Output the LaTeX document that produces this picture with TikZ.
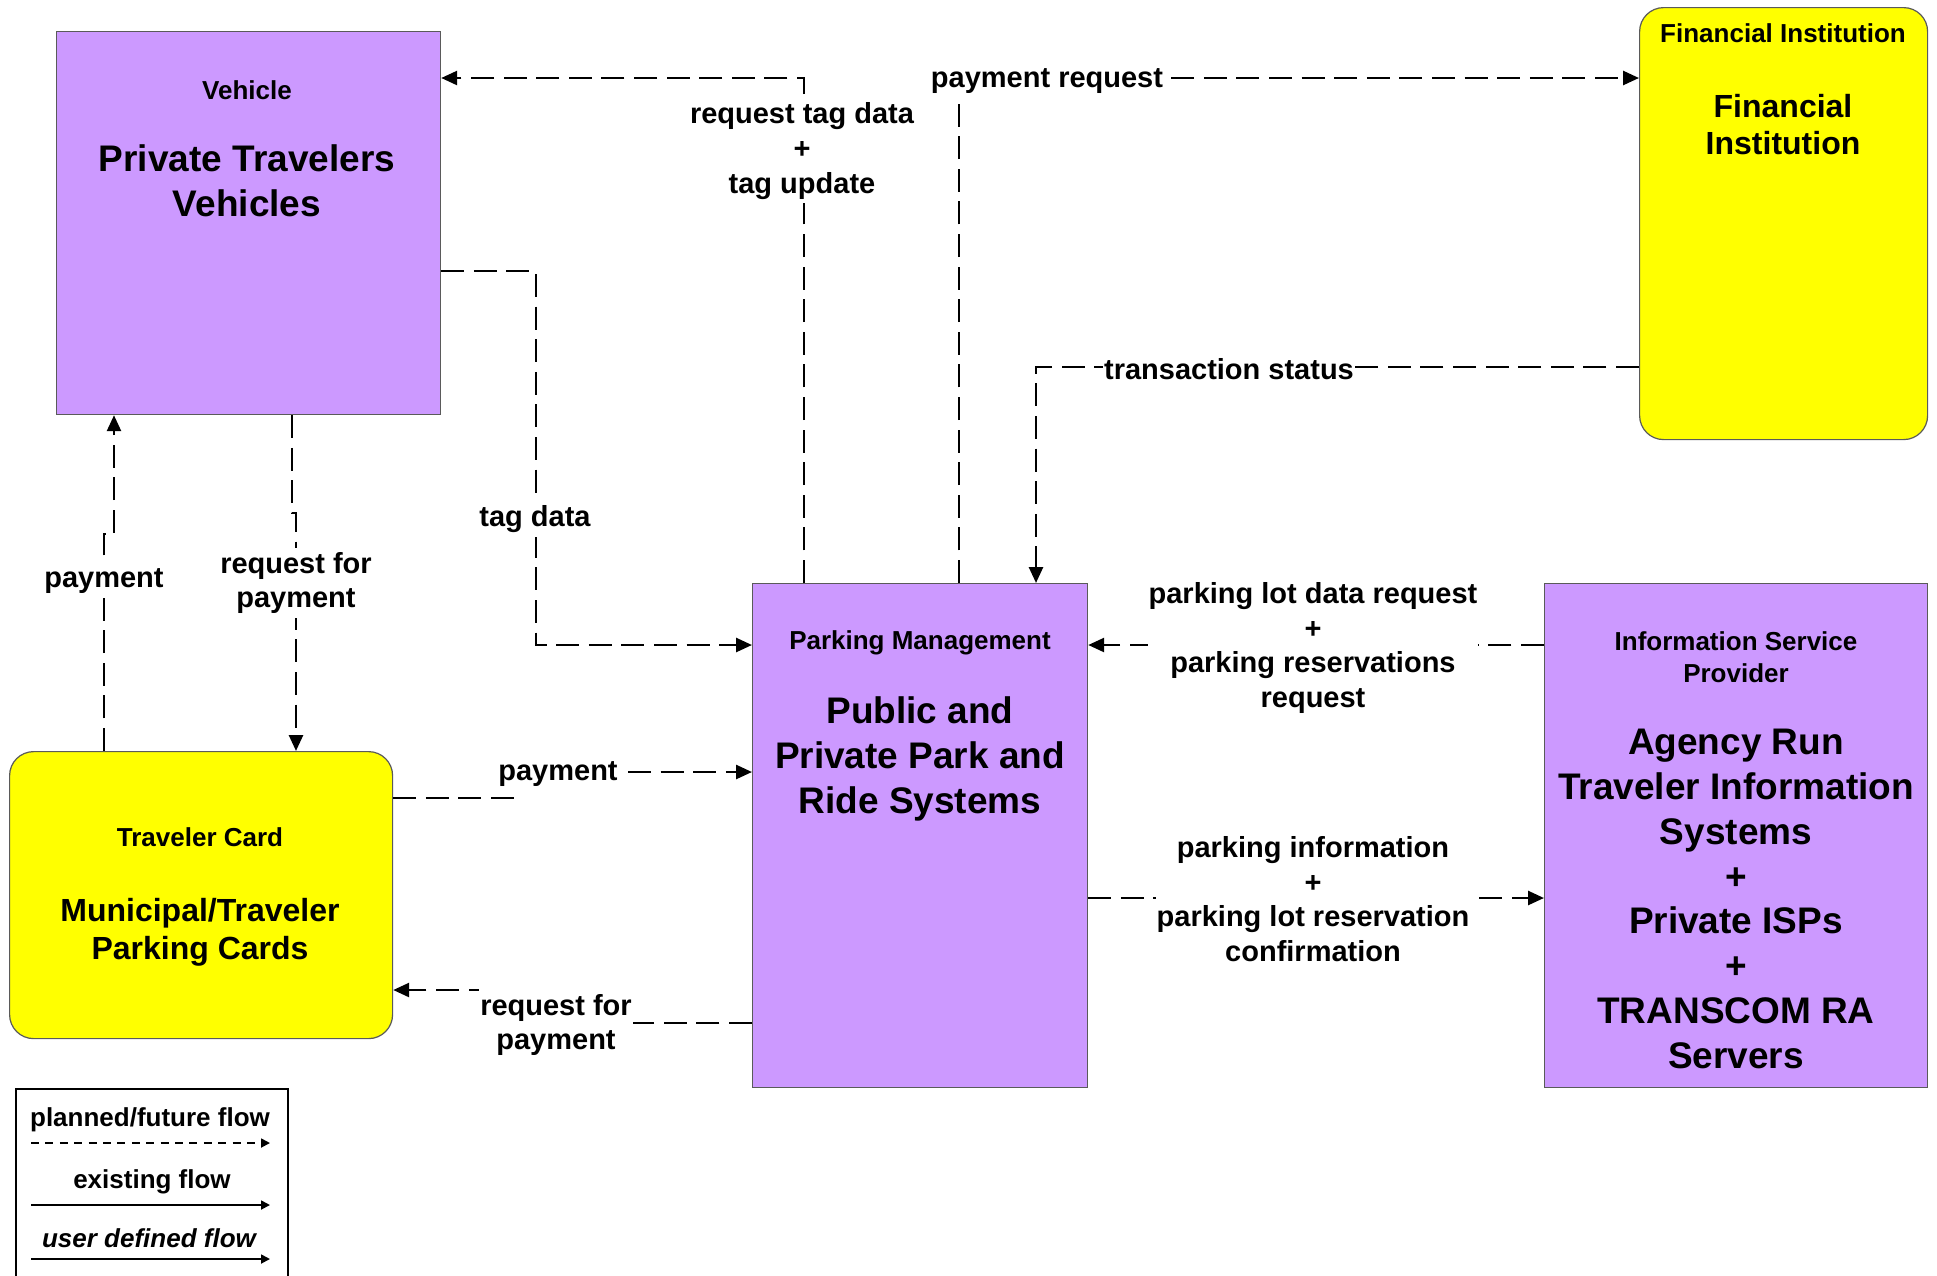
\documentclass[tikz,border=0pt]{standalone}
\usepackage{fontspec}
\setmainfont{Liberation Sans}
\usetikzlibrary{arrows.meta}
\definecolor{boxpurple}{RGB}{204,153,255}
\definecolor{boxyellow}{RGB}{255,255,0}
\definecolor{boxedge}{RGB}{90,90,90}
\begin{document}
\begin{tikzpicture}[x=0.5pt,y=-0.5pt,
  box/.style={draw=boxedge, line width=0.6pt, inner sep=0pt, anchor=north west},
  purp/.style={box, fill=boxpurple},
  yel/.style={box, fill=boxyellow, rounded corners=12pt},
  hdr/.style={font=\fontsize{13}{16}\selectfont\bfseries, align=center, inner sep=0pt},
  big/.style={font=\fontsize{18.5}{22.4}\selectfont\bfseries, align=center, inner sep=0pt},
  bigs/.style={font=\fontsize{16}{19}\selectfont\bfseries, align=center, inner sep=0pt},
  lbl/.style={fill=white, font=\fontsize{14.5}{17.3}\selectfont\bfseries, align=center, inner xsep=0.5pt, inner ysep=2pt},
  flow/.style={line width=1.3pt, dash pattern=on 11.5pt off 4.8pt, -{Triangle[length=8pt,width=7pt]}},
  legtxt/.style={font=\fontsize{13}{15}\selectfont\bfseries, inner sep=0pt},
  legfut/.style={line width=0.9pt, dash pattern=on 4pt off 3.2pt, -{Triangle[length=4.5pt,width=4.5pt]}},
  legex/.style={line width=0.9pt, -{Triangle[length=4.5pt,width=4.5pt]}}
]
\useasboundingbox (0,0) rectangle (1937,1275);

% boxes
\node[purp, minimum width=192pt, minimum height=191.5pt] (vehicle) at (56,31) {};
\node[yel, minimum width=144pt, minimum height=216pt] (fin) at (1639,7) {};
\node[purp, minimum width=167.5pt, minimum height=252pt] (park) at (752,583) {};
\node[purp, minimum width=191.5pt, minimum height=252pt] (isp) at (1544,583) {};
\node[yel, minimum width=191.5pt, minimum height=143.5pt] (card) at (9,751) {};

% box texts
\node[hdr] (vehH) at (247,90) {Vehicle};
\node[big] (vehB) at (247,181) {Private Travelers\\Vehicles};
\node[hdr] (finH) at (1783,33) {Financial Institution};
\node[bigs, font=\fontsize{16}{18.5}\selectfont\bfseries] (finB) at (1783,125) {Financial\\Institution};
\node[hdr] (parkH) at (920,643) {Parking Management};
\node[big] (parkB) at (920,759) {Public and\\Private Park and\\Ride Systems};
\node[hdr] (ispH) at (1736,657) {Information Service\\Provider};
\node[big] (ispB) at (1736,899) {Agency Run\\Traveler Information\\Systems\\+\\Private ISPs\\+\\TRANSCOM RA\\Servers};
\node[hdr] (cardH) at (200,837) {Traveler Card};
\node[bigs] (cardB) at (200,932) {Municipal/Traveler\\Parking Cards};

% connectors
\draw[flow] (park.north -| 804,0) -- (804,78) -- (vehicle.east |- 0,78);
\draw[flow] (park.north -| 959,0) -- (959,78) -- (fin.west |- 0,78);
\draw[flow] (fin.west |- 0,367) -- (1036,367) -- (park.north -| 1036,0);
\draw[flow] (vehicle.east |- 0,271) -- (536,271) -- (536,645) -- (park.west |- 0,645);
\draw[flow] (isp.west |- 0,645) -- (park.east |- 0,645);
\draw[flow] (park.east |- 0,898) -- (isp.west |- 0,898);
\draw[flow] (card.north -| 104,0) -- (104,534) -- (114,534) -- (vehicle.south -| 114,0);
\draw[flow] (vehicle.south -| 292,0) -- (292,513) -- (296,513) -- (card.north -| 296,0);
\draw[flow] (card.east |- 0,798) -- (513,798) -- (513,772) -- (park.west |- 0,772);
\draw[flow] (park.west |- 0,1023) -- (600,1023) -- (600,990) -- (card.east |- 0,990);

% labels
\node[lbl] (lrtd) at (802,151) {request tag data\\+\\tag update};
\node[lbl] (lpr) at (1047,81) {payment request};
\node[lbl] (lts) at (1229,369) {transaction status};
\node[lbl] (ltag) at (535,519) {tag data};
\node[lbl] (lplr) at (1313,648) {parking lot data request\\+\\parking reservations\\request};
\node[lbl] (lpi) at (1313,899) {parking information\\+\\parking lot reservation\\confirmation};
\node[lbl] (lpayL) at (104,581) {payment};
\node[lbl] (lrfp1) at (296,583) {request for\\payment};
\node[lbl] (lpayC) at (558,774) {payment};
\node[lbl, inner ysep=4pt] (lrfp2) at (556,1025) {request for\\payment};

% legend
\node[box, draw=black, line width=1.2pt, fill=none, minimum width=136pt, minimum height=110pt] (legend) at (15,1088) {};
\node[legtxt] (lgf) at (150,1120) {planned/future flow};
\coordinate (lgfa) at (31,1143);
\coordinate (lgfb) at (270,1143);
\draw[legfut] (lgfa) -- (lgfb);
\node[legtxt] (lge) at (152,1182) {existing flow};
\coordinate (lgea) at (31,1205);
\coordinate (lgeb) at (270,1205);
\draw[legex] (lgea) -- (lgeb);
\node[legtxt, font=\fontsize{13}{15}\selectfont\bfseries\itshape] (lgu) at (149,1238) {user defined flow};
\coordinate (lgua) at (31,1259);
\coordinate (lgub) at (270,1259);
\draw[legex] (lgua) -- (lgub);
\end{tikzpicture}
\end{document}
